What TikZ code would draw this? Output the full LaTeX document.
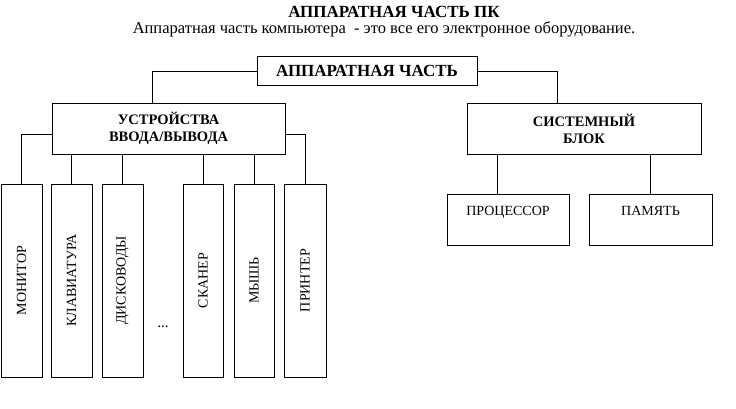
\documentclass[tikz,border=0pt]{standalone}
\usepackage{fontspec}
\setmainfont{Liberation Serif}

\begin{document}
\begin{tikzpicture}[x=1pt,y=-1pt,
  box/.style={draw, line width=0.9pt, inner sep=0pt, align=center},
  head/.style={box, font=\bfseries\fontsize{14.5}{17}\selectfont},
  dev/.style={box, minimum height=193, font=\fontsize{14}{15}\selectfont},
  link/.style={line width=0.9pt}]
\useasboundingbox (0,0) rectangle (736,408);

% title
\node (title) at (394,12) {\bfseries\fontsize{17}{18}\selectfont АППАРАТНАЯ ЧАСТЬ ПК};
\node (sub) at (384,29) {\fontsize{16.5}{18}\selectfont Аппаратная часть компьютера\ \ - это все его электронное оборудование.};

% top box
\node[head, minimum width=220, minimum height=29, font=\bfseries\fontsize{17}{18}\selectfont] (hw) at (367,71) {АППАРАТНАЯ ЧАСТЬ};

% second level
\node[head, minimum width=233, minimum height=51] (io) at (168.5,128.5) {УСТРОЙСТВА\\ВВОДА/ВЫВОДА};
\node[head, minimum width=234, minimum height=51] (sys) at (584,128.5) {СИСТЕМНЫЙ\\БЛОК};

% input/output devices
\node[dev, minimum width=41] (mon) at (21.5,280.5) {\rotatebox{90}{МОНИТОР}};
\node[dev, minimum width=41] (kbd) at (71.5,280.5) {\rotatebox{90}{КЛАВИАТУРА}};
\node[dev, minimum width=41] (disk) at (122.5,280.5) {\rotatebox{90}{ДИСКОВОДЫ}};
\node[font=\fontsize{15}{16}\selectfont] (dots) at (163,327) {...};
\node[dev, minimum width=40] (scan) at (203,280.5) {\rotatebox{90}{СКАНЕР}};
\node[dev, minimum width=40] (mouse) at (254,280.5) {\rotatebox{90}{МЫШЬ}};
\node[dev, minimum width=42] (prn) at (305,280.5) {\rotatebox{90}{ПРИНТЕР}};

% system unit parts
\node[box, minimum width=122, minimum height=51, font=\fontsize{14}{17}\selectfont] (cpu) at (508,219.5) {ПРОЦЕССОР\\~};
\node[box, minimum width=123, minimum height=51, font=\fontsize{14}{17}\selectfont] (mem) at (650.5,219.5) {ПАМЯТЬ\\~};

% connectors
\draw[link] (hw.west) -| ([xshift=101pt]io.north west);
\draw[link] (hw.east) -| ([xshift=91pt]sys.north west);
\draw[link] ([yshift=-5.5pt]io.west) -| (mon.north);
\draw[link] ([yshift=-5.5pt]io.east) -| (prn.north);
\draw[link] (kbd.north) -- (kbd.north |- io.south);
\draw[link] (disk.north) -- (disk.north |- io.south);
\draw[link] (scan.north) -- (scan.north |- io.south);
\draw[link] (mouse.north) -- (mouse.north |- io.south);
\coordinate (cpuin) at ([xshift=51pt]cpu.north west);
\draw[link] (cpuin) -- (cpuin |- sys.south);
\draw[link] (mem.north) -- (mem.north |- sys.south);
\end{tikzpicture}
\end{document}
